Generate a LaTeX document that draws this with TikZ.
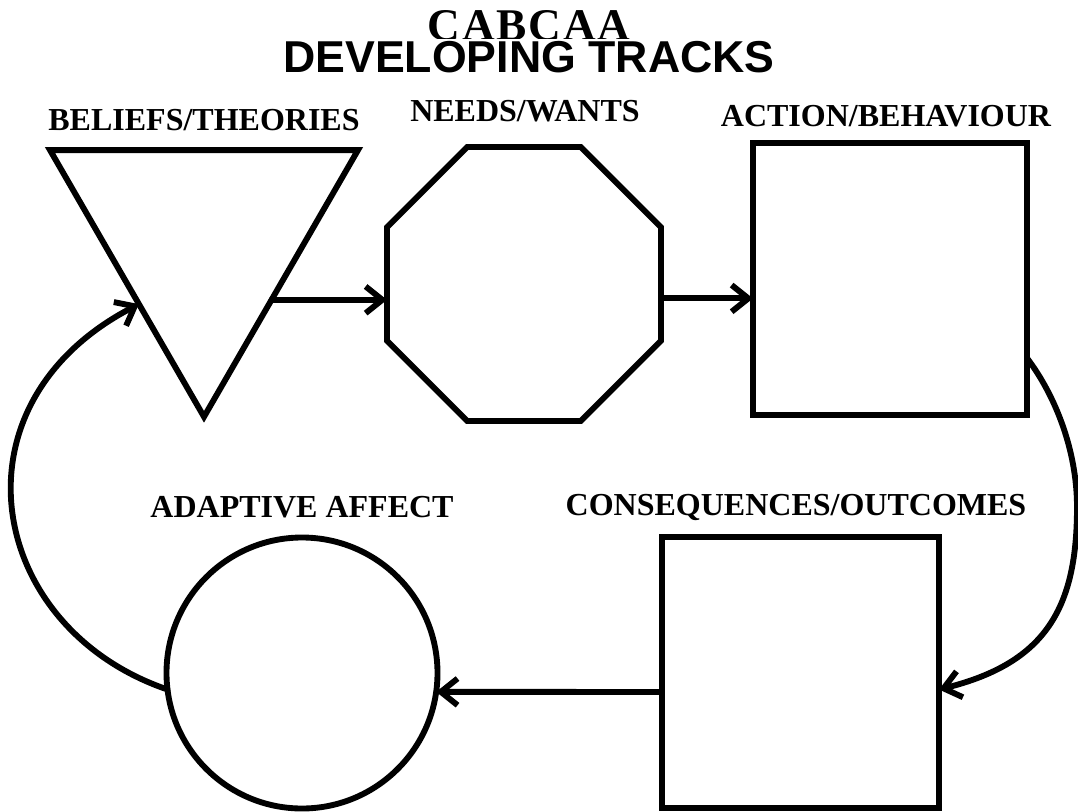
\documentclass[tikz,border=0pt]{standalone}
\usepackage{fontspec}
\setmainfont{Liberation Serif}
\newfontfamily\headsans{Liberation Sans}
\newfontfamily\spacedserif[LetterSpace=4]{Liberation Serif}
\usetikzlibrary{shapes.geometric,arrows.meta}

\begin{document}
\begin{tikzpicture}[x=0.75pt,y=-0.75pt,
  shp/.style={draw,line width=4.4pt,inner sep=0pt,outer sep=0pt},
  lbl/.style={anchor=base,font=\bfseries\fontsize{24}{24}\selectfont,inner sep=0pt},
  arr/.style={line width=4.4pt,line cap=round,line join=round,
    -{Straight Barb[length=12.5pt,width=20pt]}}]
\useasboundingbox (0,0) rectangle (1078,811);

% title lines; the second one is set on a white band
\node[anchor=base,inner sep=0pt,font=\spacedserif\bfseries\fontsize{34}{34}\selectfont] (t1) at (529,40) {CABCAA};
\node[anchor=base,inner sep=0pt,fill=white,text height=24.75pt,text depth=1pt,
  font=\headsans\bfseries\fontsize{33.5}{33.5}\selectfont] (t2) at (529,72) {DEVELOPING TRACKS};

% stage labels
\node[lbl] (lb1) at (204,130) {BELIEFS/THEORIES};
\node[lbl] (lb2) at (525,121) {NEEDS/WANTS};
\node[lbl] (lb3) at (886,126) {ACTION/BEHAVIOUR};
\node[lbl] (lb4) at (302,517) {ADAPTIVE AFFECT};
\node[lbl] (lb5) at (796,515) {CONSEQUENCES/OUTCOMES};

% stage shapes
\node[shp,regular polygon,regular polygon sides=3,shape border rotate=180,
  minimum size=266.7pt] (tri) at (204,239) {};
\node[shp,regular polygon,regular polygon sides=8,minimum size=222.4pt] (oct) at (524,284) {};
\node[shp,rectangle,minimum width=205.5pt,minimum height=204pt] (act) at (890,279) {};
\node[shp,rectangle,minimum width=207.75pt,minimum height=203.25pt] (cons) at (800.5,672.5) {};
\node[shp,circle,minimum size=203.25pt] (aff) at (302,673) {};

% connectors
\draw[arr] (tri.-42) -- (tri.-42 -| oct.west);
\draw[arr] (oct.-6.7) -- (oct.-6.7 -| act.west);
\draw[arr] (act.-30.6) .. controls (1055,395) and (1077,450) .. (1077,507)
  .. controls (1077,607) and (1046.7,662.5) .. (cons.-7.2);
\draw[arr] (cons.188.4) -- (aff.-8.5);
\draw[arr] (aff.187.2) .. controls (-12.7,628.1) and (-54.6,404.6) .. (tri.225.4);
\end{tikzpicture}
\end{document}
